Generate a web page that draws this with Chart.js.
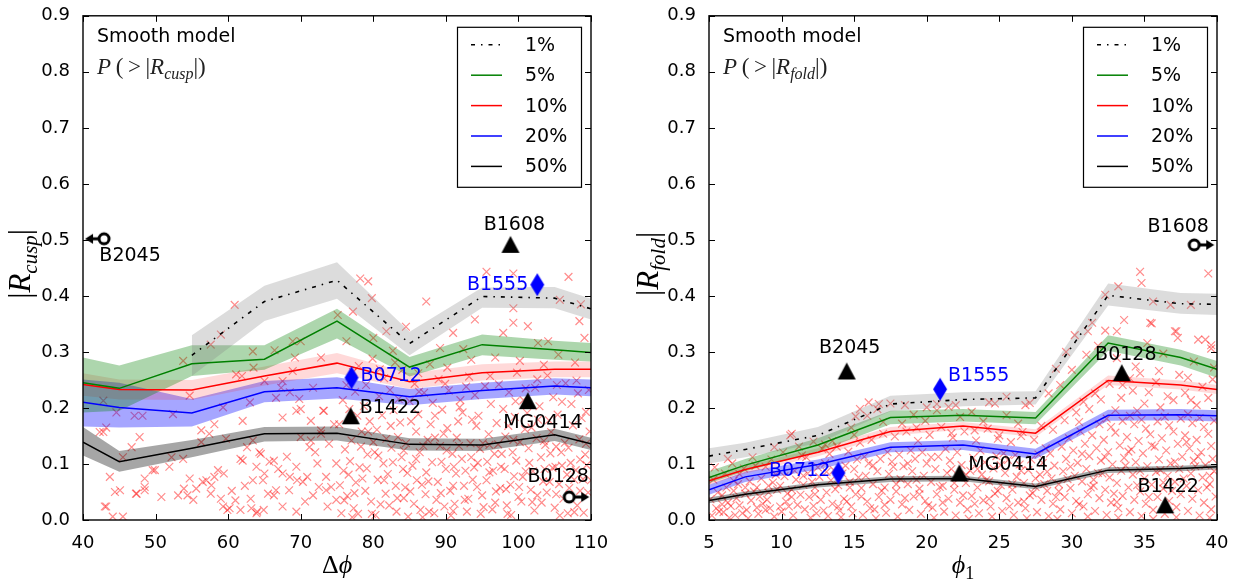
<!DOCTYPE html>
<html><head><meta charset="utf-8">
<script src="https://cdn.jsdelivr.net/npm/chart.js@4/dist/chart.umd.min.js"></script>
<style>
html,body{margin:0;padding:0;background:#fff;width:1238px;height:583px;overflow:hidden}
.wrap{position:absolute;top:0;height:583px;width:619px}
#w1{left:0} #w2{left:619px}
canvas{display:block}
</style></head><body>
<div class="wrap" id="w1"><canvas id="c1" width="619" height="583"></canvas></div>
<div class="wrap" id="w2"><canvas id="c2" width="619" height="583"></canvas></div>
<script>
// ---------------- DATA: left panel (cusp) ----------------
const cuspX = [40,45,55,65,75,85,95,105,110];
const cusp1   = [null,null,0.294,0.390,0.428,0.315,0.399,0.396,0.377];
const cusp1Lo = [null,null,0.257,0.355,0.395,0.294,0.379,0.378,0.358];
const cusp1Hi = [null,null,0.330,0.418,0.460,0.336,0.415,0.416,0.395];
const cusp5   = [0.245,0.235,0.279,0.287,0.355,0.273,0.313,0.304,0.299];
const cusp5Lo = [0.192,0.195,0.257,0.268,0.324,0.256,0.294,0.286,0.283];
const cusp5Hi = [0.290,0.276,0.312,0.312,0.377,0.291,0.331,0.320,0.316];
const cusp10   = [0.242,0.233,0.232,0.257,0.280,0.247,0.263,0.269,0.269];
const cusp10Lo = [0.222,0.215,0.214,0.240,0.262,0.234,0.249,0.255,0.255];
const cusp10Hi = [0.262,0.251,0.250,0.274,0.298,0.262,0.278,0.283,0.283];
const cusp20   = [0.210,0.201,0.191,0.229,0.236,0.220,0.231,0.239,0.236];
const cusp20Lo = [0.167,0.165,0.167,0.210,0.217,0.205,0.216,0.224,0.221];
const cusp20Hi = [0.251,0.245,0.216,0.248,0.255,0.234,0.245,0.253,0.251];
const cusp50   = [0.139,0.104,0.128,0.154,0.155,0.135,0.134,0.152,0.136];
const cusp50Lo = [0.115,0.086,0.112,0.140,0.142,0.124,0.123,0.141,0.125];
const cusp50Hi = [0.166,0.123,0.143,0.166,0.167,0.146,0.145,0.163,0.147];
const cuspObjName = ['B2045','B1608','B1555','B0712','B1422','MG0414','B0128'];
const cuspObjX    = [42.9,98.9,102.6,77.0,76.9,101.3,107.0];
const cuspObjY    = [0.502,0.492,0.420,0.254,0.186,0.213,0.041];
const cuspObjKind = ['limL','tri','dia','dia','tri','tri','limR'];
const cuspScatter = [
[60.9,.384],[63.4,.301],[53.8,.284],[66.4,.303],[68.9,.319],[69.2,.290],[72.8,.290],[75.1,.366],[61.1,.260],[54.7,.222],
[52.4,.189],[47.1,.186],[48.2,.186],[42.8,.213],[43.2,.165],[42.8,.157],[44.6,.192],[46.7,.130],[45.5,.112],[43.7,.077],
[45.1,.053],[43.2,.024],[44.1,.006],[45.5,.006],[48.5,.074],[48.5,.053],[47.3,.047],[50.8,.041],[49.6,.089],[51.9,.095],
[52.2,.112],[53.1,.044],[53.8,.109],[54.7,.074],[55.2,.036],[55.6,.056],[57.0,.071],[57.7,.062],[58.6,.089],[59.3,.024],
[60.2,.021],[59.7,.145],[57.4,.154],[56.3,.139],[56.3,.160],[58.1,.171],[62.0,.177],[63.4,.142],[62.0,.106],[64.3,.121],
[63.9,.095],[65.0,.083],[65.7,.104],[65.5,.047],[66.6,.053],[63.4,.071],[63.2,.021],[63.9,.012],[67.5,.183],[69.4,.195],
[69.8,.216],[68.5,.228],[71.7,.236],[73.1,.195],[72.8,.154],[71.2,.130],[69.4,.095],[68.5,.077],[70.3,.068],[71.7,.044],
[73.5,.077],[74.2,.059],[73.7,.024],[74.9,.036],[74.9,.101],[67.5,.024],[69.4,.015],[59.3,.201],[63.0,.210],[66.6,.218],
[65.0,.248],[67.5,.248],[68.9,.266],[42.3,.157],[47.8,.148],[43.0,.024],[44.4,.050],[47.4,.047],[48.5,.059],[49.9,.089],
[53.9,.056],[54.4,.044],[56.5,.068],[58.1,.077],[59.4,.083],[59.9,.018],[61.7,.018],[64.0,.015],[57.6,.047],[59.0,.038],
[61.0,.035],[63.1,.038],[64.9,.018],[66.3,.044],[68.4,.053],[69.5,.071],[70.9,.077],[72.3,.101],[72.5,.059],[73.5,.053],
[61.7,.109],[62.6,.130],[64.5,.118],[66.3,.106],[67.5,.083],[70.0,.148],[71.4,.142],[72.8,.160],[70.0,.198],[71.4,.177],
[73.2,.195],[61.9,.257],[63.5,.272],[67.3,.236],[70.0,.319],[59.0,.331],[57.6,.313],
[75.6,.012],[75.9,.088],[75.3,.171],[75.8,.214],[76.4,.043],[76.1,.126],[76.7,.198],[77.3,.021],[77.6,.067],[77.0,.142],
[77.5,.229],[77.2,.264],[78.1,.094],[78.4,.158],[77.9,.011],[78.9,.052],[79.2,.117],[78.7,.203],[79.0,.241],[79.7,.033],
[80.0,.139],[79.5,.176],[79.9,.288],[80.6,.072],[80.3,.009],[80.8,.221],[80.5,.161],[81.4,.101],[81.7,.047],[81.2,.187],
[81.5,.253],[82.2,.026],[82.5,.129],[82.0,.082],[82.3,.232],[83.1,.061],[83.4,.148],[82.8,.196],[83.2,.015],[83.9,.112],
[84.2,.039],[83.7,.174],[84.0,.268],[84.7,.084],[85.0,.212],[84.5,.137],[84.8,.006],[85.6,.029],[85.9,.158],[85.4,.097],
[85.7,.243],[86.4,.121],[86.7,.063],[86.2,.189],[86.5,.018],[87.2,.046],[87.5,.143],[87.0,.227],[87.3,.085],[88.1,.103],
[88.4,.012],[87.9,.171],[88.2,.209],[88.9,.068],[89.2,.132],[88.7,.036],[89.0,.251],[89.7,.154],[90.0,.091],[89.5,.197],
[89.8,.024],[90.6,.052],[90.9,.118],[90.4,.231],[90.7,.008],[91.4,.083],[91.7,.176],[91.2,.029],[91.5,.147],[92.2,.109],
[92.5,.061],[92.0,.214],[92.3,.192],[93.1,.038],[93.4,.137],[92.9,.015],[93.2,.256],[93.9,.094],[94.2,.168],[93.7,.072],
[94.0,.223],[94.7,.127],[95.0,.044],[94.5,.186],[94.8,.011],[95.6,.071],[95.9,.153],[95.4,.239],[95.7,.104],[96.4,.019],
[96.7,.118],[96.2,.207],[96.5,.088],[97.2,.135],[97.5,.057],[97.0,.173],[97.3,.242],[98.1,.091],[98.4,.026],[97.9,.198],
[98.2,.149],[98.9,.063],[99.2,.121],[98.7,.228],[99.0,.009],[99.7,.106],[100.0,.041],[99.5,.184],[99.8,.263],[100.6,.077],
[100.9,.162],[100.4,.033],[100.7,.214],[101.4,.128],[101.7,.054],[101.2,.191],[101.5,.102],[102.2,.017],[102.5,.146],[102.0,.087],
[102.3,.236],[103.1,.112],[103.4,.069],[102.9,.203],[103.2,.031],[103.9,.049],[104.2,.178],[103.7,.134],[104.0,.258],[104.7,.093],
[105.0,.022],[104.5,.157],[104.8,.219],[105.6,.064],[105.9,.121],[105.4,.188],[105.7,.008],[106.4,.138],[106.7,.081],[106.2,.038],
[106.5,.244],[107.2,.102],[107.5,.169],[107.0,.057],[107.3,.207],[108.1,.026],[108.4,.144],[107.9,.089],[108.2,.226],[108.9,.073],
[109.2,.117],[108.7,.182],[109.0,.013],[109.6,.049],[109.8,.158],[109.4,.098],[109.7,.232],
[76.0,.035],[76.8,.105],[77.8,.186],[78.5,.074],[79.3,.158],[80.2,.121],[81.0,.028],[81.8,.145],[82.7,.103],[83.5,.216],
[84.4,.058],[85.2,.176],[86.0,.071],[86.9,.132],[87.7,.015],[88.5,.186],[89.4,.104],[90.2,.164],[91.0,.061],[91.9,.201],
[92.7,.088],[93.6,.179],[94.4,.102],[95.2,.023],[96.0,.134],[96.9,.051],[97.7,.118],[98.6,.168],[99.4,.078],[100.2,.139],
[101.0,.235],[101.9,.032],[102.7,.179],[103.6,.091],[104.4,.119],[105.2,.046],[106.0,.211],[106.9,.129],[107.7,.014],[108.5,.108],
[109.3,.193],[76.3,.241],[78.0,.275],[80.9,.269],[83.0,.281],[86.3,.229],[89.9,.243],[92.8,.238],[96.1,.257],[99.6,.212],
[102.6,.251],[105.3,.241],[108.0,.249],[77.1,.005],[84.1,.091],[91.1,.095],[98.3,.055],[105.1,.095],[110.0,.071],
[75.4,.062],[76.6,.081],[77.4,.048],[78.3,.131],[79.1,.092],[79.8,.011],[80.7,.115],[81.5,.071],[82.4,.168],[83.3,.039],
[84.2,.124],[85.1,.051],[85.9,.109],[86.8,.005],[87.6,.069],[88.5,.147],[89.3,.048],[90.1,.124],[91.0,.016],[91.8,.132],
[92.6,.036],[93.5,.112],[94.3,.059],[95.1,.137],[96.0,.085],[96.8,.031],[97.6,.095],[98.5,.011],[99.3,.143],[100.1,.059],
[101.0,.087],[101.8,.165],[102.6,.044],[103.5,.141],[104.3,.068],[105.2,.131],[106.0,.097],[106.8,.012],[107.7,.072],[108.5,.052],
[109.3,.136],[60.5,.052],[62.3,.061],[64.8,.071],[66.9,.091],[68.1,.113],[70.6,.033],[72.0,.121],[73.9,.136],[74.6,.171],
[79.3,.426],[78.2,.431],[79.8,.396],[77.2,.372],[87.3,.390],[95.6,.443],[99.3,.440],[106.9,.434],[105.7,.393],[99.3,.378],
[108.4,.355],[108.6,.385],[94.0,.358],[99.3,.352],[101.3,.346],[97.9,.334],[102.7,.316],[104.1,.319],[105.5,.295],[109.1,.325],
[91.0,.334],[92.4,.305],[81.8,.337],[80.0,.325],[76.3,.319],[82.7,.302],[89.2,.307],[87.8,.278],[84.5,.345],[96.8,.290],
[100.2,.284],[90.2,.272],[103.5,.277],[107.8,.281],[86.2,.262],[93.5,.286]
];

// ---------------- DATA: right panel (fold) ----------------
const foldX = [5,7.5,12.5,17.5,22.5,27.5,32.5,37.5,40];
const fold1   = [0.114,0.126,0.151,0.207,0.215,0.218,0.401,0.386,0.385];
const fold1Lo = [0.101,0.112,0.137,0.194,0.203,0.206,0.383,0.368,0.366];
const fold1Hi = [0.128,0.138,0.166,0.222,0.228,0.230,0.422,0.405,0.404];
const fold5   = [0.076,0.098,0.134,0.183,0.187,0.182,0.316,0.290,0.269];
const fold5Lo = [0.066,0.087,0.122,0.171,0.176,0.171,0.302,0.276,0.254];
const fold5Hi = [0.087,0.109,0.146,0.195,0.198,0.193,0.330,0.304,0.284];
const fold10   = [0.070,0.090,0.121,0.158,0.168,0.155,0.249,0.241,0.233];
const fold10Lo = [0.063,0.083,0.114,0.151,0.161,0.148,0.241,0.233,0.225];
const fold10Hi = [0.077,0.097,0.128,0.166,0.175,0.162,0.258,0.249,0.241];
const fold20   = [0.054,0.077,0.099,0.130,0.134,0.118,0.187,0.188,0.186];
const fold20Lo = [0.045,0.068,0.090,0.121,0.125,0.109,0.177,0.178,0.176];
const fold20Hi = [0.063,0.086,0.108,0.139,0.143,0.127,0.197,0.198,0.196];
const fold50   = [0.035,0.046,0.063,0.073,0.074,0.060,0.089,0.092,0.095];
const fold50Lo = [0.030,0.041,0.058,0.068,0.069,0.055,0.084,0.087,0.090];
const fold50Hi = [0.040,0.051,0.068,0.078,0.079,0.065,0.094,0.097,0.100];
const foldObjName = ['B2045','B1555','B0712','MG0414','B0128','B1422','B1608'];
const foldObjX    = [14.49,20.92,13.91,22.25,33.44,36.43,38.43];
const foldObjY    = [0.266,0.2335,0.084,0.084,0.263,0.027,0.491];
const foldObjKind = ['tri','dia','dia','tri','tri','tri','limR'];
const foldScatter = [
[5.2,.008],[5.5,.021],[5.1,.037],[5.6,.049],[5.3,.072],[5.4,.094],[6.0,.014],[6.3,.031],[5.9,.044],[6.2,.058],[6.4,.004],[6.1,.083],
[6.8,.009],[7.1,.026],[6.7,.052],[7.0,.064],[6.9,.039],[6.6,.101],[7.6,.018],[7.9,.035],[7.5,.047],[7.8,.069],[7.7,.003],[7.4,.092],[8.0,.112],
[8.4,.011],[8.7,.029],[8.3,.058],[8.6,.074],[8.5,.042],[8.2,.097],[9.2,.021],[9.5,.006],[9.1,.049],[9.4,.067],[9.6,.081],[9.0,.036],[9.3,.108],
[10.0,.015],[10.3,.033],[9.9,.061],[10.2,.078],[10.4,.047],[10.1,.121],[10.8,.008],[11.1,.027],[10.7,.054],[11.0,.072],[10.9,.088],[11.2,.131],[10.6,.151],
[11.6,.019],[11.9,.041],[11.5,.063],[11.8,.083],[12.0,.004],[11.7,.112],[12.4,.012],[12.7,.036],[12.3,.058],[12.6,.077],[12.5,.094],[12.2,.025],[12.8,.127],
[13.2,.007],[13.5,.029],[13.1,.049],[13.4,.071],[13.6,.089],[13.0,.101],[13.3,.118],[13.5,.141],[14.0,.017],[14.3,.038],[13.9,.062],[14.2,.083],[14.4,.097],[14.1,.005],[13.8,.131],
[14.8,.024],[15.1,.046],[14.7,.068],[15.0,.091],[15.2,.108],[14.9,.012],[14.6,.122],[15.0,.152],[15.6,.009],[15.9,.033],[15.5,.057],[15.8,.079],[16.0,.101],[15.7,.113],[15.4,.138],[15.9,.186],
[16.4,.019],[16.7,.041],[16.3,.064],[16.6,.087],[16.8,.109],[16.5,.003],[16.2,.143],[16.6,.198],[17.2,.013],[17.5,.036],[17.1,.058],[17.4,.082],[17.6,.104],[17.3,.121],[17.0,.154],[17.5,.208],
[18.0,.006],[18.3,.028],[17.9,.051],[18.2,.073],[18.4,.096],[18.1,.117],[17.8,.149],[18.3,.172],[18.8,.018],[19.1,.042],[18.7,.064],[19.0,.087],[19.2,.109],[18.9,.124],[18.6,.158],[19.1,.188],
[19.6,.011],[19.9,.034],[19.5,.056],[19.8,.079],[20.0,.101],[19.7,.121],[19.4,.141],[19.9,.177],[20.4,.022],[20.7,.046],[20.3,.068],[20.6,.091],[20.8,.113],[20.5,.004],[20.2,.152],[20.7,.196],
[21.2,.015],[21.5,.038],[21.1,.061],[21.4,.084],[21.6,.106],[21.3,.127],[21.0,.166],[21.5,.202],[22.0,.008],[22.3,.031],[21.9,.054],[22.2,.076],[22.4,.098],[22.1,.121],[21.8,.147],[22.3,.184],
[22.8,.019],[23.1,.043],[22.7,.066],[23.0,.088],[23.2,.111],[22.9,.002],[22.6,.158],[23.1,.193],[23.6,.012],[23.9,.035],[23.5,.058],[23.8,.081],[24.0,.103],[23.7,.124],[23.4,.142],[23.9,.176],
[24.4,.024],[24.7,.047],[24.3,.069],[24.6,.092],[24.8,.114],[24.5,.006],[24.2,.163],[24.7,.208],[25.2,.016],[25.5,.039],[25.1,.062],[25.4,.084],[25.6,.107],[25.3,.119],[25.0,.151],[25.5,.187],
[26.0,.009],[26.3,.031],[25.9,.054],[26.2,.077],[26.4,.099],[26.1,.116],[25.8,.139],[26.3,.172],[26.8,.021],[27.1,.044],[26.7,.066],[27.0,.089],[27.2,.108],[26.9,.003],[26.6,.157],[27.1,.209],
[27.6,.014],[27.9,.036],[27.5,.059],[27.8,.081],[28.0,.102],[27.7,.117],[27.4,.143],[27.9,.168],[28.4,.007],[28.7,.029],[28.3,.052],[28.6,.074],[28.8,.097],[28.5,.119],[28.2,.128],[28.7,.161],[28.4,.226],
[29.2,.019],[29.5,.041],[29.1,.064],[29.4,.087],[29.6,.109],[29.3,.131],[29.0,.002],[29.5,.178],[29.2,.241],[30.0,.012],[30.3,.034],[29.9,.057],[30.2,.079],[30.4,.102],[30.1,.124],[29.8,.146],[30.3,.192],[30.0,.268],
[30.8,.024],[31.1,.046],[30.7,.069],[31.0,.091],[31.2,.114],[30.9,.136],[30.6,.158],[31.1,.006],[30.8,.211],[31.0,.295],[31.6,.016],[31.9,.039],[31.5,.061],[31.8,.084],[32.0,.106],[31.7,.128],[31.4,.151],[31.9,.171],[31.6,.226],[31.8,.311],
[32.4,.009],[32.7,.031],[32.3,.054],[32.6,.076],[32.8,.099],[32.5,.121],[32.2,.143],[32.7,.166],[32.4,.181],[32.6,.243],[32.3,.338],
[33.2,.021],[33.5,.043],[33.1,.066],[33.4,.088],[33.6,.111],[33.3,.133],[33.0,.156],[33.5,.177],[33.2,.004],[33.4,.218],[33.1,.289],[33.6,.357],
[34.0,.014],[34.3,.036],[33.9,.058],[34.2,.081],[34.4,.103],[34.1,.126],[33.8,.148],[34.3,.171],[34.0,.186],[34.2,.231],[34.4,.274],
[34.8,.007],[35.1,.029],[34.7,.051],[35.0,.074],[35.2,.096],[34.9,.119],[34.6,.141],[35.1,.163],[34.8,.179],[35.0,.208],[34.7,.262],[35.2,.316],
[35.6,.018],[35.9,.041],[35.5,.063],[35.8,.086],[36.0,.108],[35.7,.131],[35.4,.153],[35.9,.176],[35.6,.002],[35.8,.246],[35.5,.351],
[36.4,.011],[36.7,.034],[36.3,.056],[36.6,.079],[36.8,.101],[36.5,.124],[36.2,.146],[36.7,.169],[36.4,.184],[36.6,.221],[36.3,.297],
[37.2,.023],[37.5,.046],[37.1,.068],[37.4,.091],[37.6,.113],[37.3,.136],[37.0,.158],[37.5,.181],[37.2,.005],[37.4,.259],[37.1,.337],
[38.0,.016],[38.3,.038],[37.9,.061],[38.2,.083],[38.4,.106],[38.1,.128],[37.8,.151],[38.3,.173],[38.0,.189],[38.2,.214],[38.4,.283],
[38.8,.008],[39.1,.031],[38.7,.053],[39.0,.076],[39.2,.098],[38.9,.121],[38.6,.143],[39.1,.166],[38.8,.182],[39.0,.238],[38.7,.322],
[39.6,.019],[39.9,.042],[39.5,.064],[39.8,.087],[39.7,.109],[39.6,.132],[39.4,.154],[39.8,.177],[39.5,.004],[39.7,.251],[39.6,.306],
[5.7,.015],[6.5,.025],[7.3,.012],[8.1,.051],[8.9,.018],[9.7,.054],[10.5,.024],[11.3,.045],[12.1,.068],[12.9,.017],
[13.7,.055],[14.5,.033],[15.3,.076],[16.1,.021],[16.9,.052],[17.7,.095],[18.5,.039],[19.3,.072],[20.1,.026],[20.9,.059],
[21.7,.091],[22.5,.044],[23.3,.029],[24.1,.071],[24.9,.052],[25.7,.024],[26.5,.088],[27.3,.048],[28.1,.064],[28.9,.041],
[29.7,.073],[30.5,.028],[31.3,.058],[32.1,.083],[32.9,.047],[33.7,.097],[34.5,.062],[35.3,.041],[36.1,.089],[36.9,.052],
[37.7,.074],[38.5,.096],[39.3,.058],
[5.9,.028],[6.7,.070],[7.5,.058],[8.3,.022],[9.1,.061],[9.9,.024],[10.7,.041],[11.5,.079],[12.3,.046],[13.1,.086],
[13.9,.024],[14.7,.058],[15.5,.042],[16.3,.097],[17.1,.027],[17.9,.064],[18.7,.101],[19.5,.046],[20.3,.112],[21.1,.031],
[21.9,.066],[22.7,.081],[23.5,.091],[24.3,.038],[25.1,.098],[25.9,.064],[26.7,.033],[27.5,.074],[28.3,.086],[29.1,.051],
[29.9,.095],[30.7,.118],[31.5,.072],[32.3,.112],[33.1,.032],[33.9,.122],[34.7,.088],[35.5,.133],[36.3,.067],[37.1,.104],
[37.9,.139],[38.7,.113],[39.5,.079],
[30.5,.175],[31.2,.198],[32.0,.215],[33.0,.196],[34.5,.195],[35.3,.228],[36.1,.201],[37.0,.214],[37.8,.227],[38.6,.205],
[39.4,.218],[34.0,.253],[36.0,.266],[38.0,.254],[39.8,.272],[33.5,.241],[17.0,.175],[19.3,.165],[21.7,.155],[23.3,.160],
[24.9,.145],[26.5,.150],[13.0,.135],[11.4,.115],[8.9,.095],[7.1,.082],
[16.0,.210],[15.4,.198],[16.7,.207],[15.1,.185],[10.7,.154],[6.3,.109],[20.7,.207],[20.0,.201],[34.7,.443],[34.8,.423],
[39.4,.440],[33.2,.417],[32.3,.402],[35.4,.352],[37.2,.337],[37.3,.325],[39.2,.322],[39.6,.312],[33.1,.337],[31.4,.352],
[31.1,.337],[38.2,.384],[36.8,.384],[35.6,.390],[29.6,.300],[30.2,.330],[28.9,.270],[12.2,.140],[9.5,.130],[14.8,.165],
[18.5,.205],[24.3,.210],[26.8,.205],[25.5,.220],[22.0,.205]
];

const legendLabels = ['1%','5%','10%','20%','50%'];

// ---------------- STYLE ----------------
const FONT = '"DejaVu Sans", sans-serif';
const SERIF = '"Liberation Serif","DejaVu Serif", serif';
const lineColors = ['#000000','#008000','#ff0000','#0000ff','#000000'];
const bandColors = ['rgba(128,128,128,0.28)','rgba(0,128,0,0.32)','rgba(255,0,0,0.15)','rgba(0,0,255,0.35)','rgba(0,0,0,0.35)'];
const dash1 = [4,6,1.5,6];

function mk(w,h,fn){const c=document.createElement('canvas');c.width=w;c.height=h;fn(c.getContext('2d'));return c;}
const triImg = mk(20,19,g=>{g.fillStyle='#000';g.beginPath();g.moveTo(10,1);g.lineTo(19,18);g.lineTo(1,18);g.closePath();g.fill();});
const diaImg = mk(16,25,g=>{g.fillStyle='#0000ff';g.beginPath();g.moveTo(8,1);g.lineTo(15,12.5);g.lineTo(8,24);g.lineTo(1,12.5);g.closePath();g.fill();});
function limImg(dir,L){
  const W=2*(L+2);
  return mk(W,16,g=>{
    const cx=W/2, cy=8, r=5;
    g.strokeStyle='#000'; g.fillStyle='#000'; g.lineWidth=3;
    const tip=cx+dir*L;
    g.beginPath(); g.moveTo(cx+dir*r,cy); g.lineTo(tip-dir*6,cy); g.stroke();
    g.beginPath(); g.moveTo(tip,cy); g.lineTo(tip-dir*8,cy-5); g.lineTo(tip-dir*8,cy+5); g.closePath(); g.fill();
    g.fillStyle='#fff'; g.beginPath(); g.arc(cx,cy,r,0,Math.PI*2); g.fill(); g.stroke();
  });
}
const markerImg = {tri:triImg, dia:diaImg, limL:limImg(-1,19), limR:limImg(1,20)};

const cuspLabelStyle = [
 {dx:26,dy:17,align:'center'},{dx:4,dy:-19,align:'center'},{dx:-9,dy:0,align:'right'},
 {dx:9,dy:-2,align:'left'},{dx:9,dy:-8,align:'left'},{dx:15,dy:22,align:'center'},{dx:-11,dy:-20,align:'center'}];
const foldLabelStyle = [
 {dx:3,dy:-23,align:'center'},{dx:8,dy:-13,align:'left'},{dx:-8,dy:-2,align:'right'},
 {dx:9,dy:-8,align:'left'},{dx:4,dy:-18,align:'center'},{dx:3,dy:-18,align:'center'},{dx:-16,dy:-18,align:'center'}];

function pts(xs,ys){const o=[];xs.forEach((x,i)=>{if(ys[i]!==null)o.push({x,y:ys[i]});});return o;}

function buildDatasets(xs, series, scatter, names, ox, oy, kinds){
  const ds=[];
  ds.push({type:'scatter',data:scatter.map(p=>({x:p[0],y:p[1]})),pointStyle:'crossRot',pointRadius:5.5,
    borderColor:'rgba(255,0,0,0.45)',backgroundColor:'rgba(255,0,0,0.45)',borderWidth:1.2,order:100});
  series.forEach((s,i)=>{
    ds.push({type:'line',data:pts(xs,s.hi),borderColor:'rgba(0,0,0,0)',borderWidth:0,pointRadius:0,fill:false,order:50,tension:0});
    ds.push({type:'line',data:pts(xs,s.lo),borderColor:'rgba(0,0,0,0)',borderWidth:0,pointRadius:0,fill:'-1',backgroundColor:bandColors[i],order:50,tension:0});
  });
  series.forEach((s,i)=>{
    ds.push({type:'line',data:pts(xs,s.mid),borderColor:lineColors[i],borderWidth:i===0?1.6:1.5,borderDash:i===0?dash1:[],
      pointRadius:0,fill:false,order:10,tension:0});
  });
  names.forEach((n,i)=>{
    ds.push({type:'scatter',data:[{x:ox[i],y:oy[i]}],pointStyle:markerImg[kinds[i]],pointRadius:5,clip:false,order:1});
  });
  return ds;
}

function drawMath(ctx, parts, x, y, size, color, center){
  const f={n:`${size}px ${SERIF}`, i:`italic ${size}px ${SERIF}`, s:`italic ${Math.round(size*0.68)}px ${SERIF}`, sn:`${Math.round(size*0.7)}px ${SERIF}`};
  let w=0; for(const [t,s] of parts){ctx.font=f[s]; w+=ctx.measureText(t).width;}
  let cx=center?x-w/2:x;
  ctx.textBaseline='alphabetic'; ctx.textAlign='left'; ctx.fillStyle=color;
  for(const [t,s] of parts){ctx.font=f[s]; ctx.fillText(t,cx,(s==='s'||s==='sn')?y+size*0.24:y); cx+=ctx.measureText(t).width;}
}

function makeDecor(cfg){
  return {id:'decor', afterDatasetsDraw(chart){
    const ctx=chart.ctx, a=chart.chartArea, xs=chart.scales.x, ys=chart.scales.y;
    ctx.save();
    ctx.strokeStyle='#000'; ctx.lineWidth=1.4;
    ctx.strokeRect(a.left,a.top,a.right-a.left,a.bottom-a.top);
    ctx.lineWidth=1;
    ctx.beginPath();
    xs.ticks.forEach(t=>{const p=Math.round(xs.getPixelForValue(t.value))+0.5;
      ctx.moveTo(p,a.bottom);ctx.lineTo(p,a.bottom-6);ctx.moveTo(p,a.top);ctx.lineTo(p,a.top+6);});
    ys.ticks.forEach(t=>{const p=Math.round(ys.getPixelForValue(t.value))+0.5;
      ctx.moveTo(a.left,p);ctx.lineTo(a.left+6,p);ctx.moveTo(a.right,p);ctx.lineTo(a.right-6,p);});
    ctx.stroke();
    // legend
    const x1=a.right-10, x0=x1-124, y0=a.top+11;
    ctx.fillStyle='#fff'; ctx.fillRect(x0,y0,124,160);
    ctx.strokeStyle='#000'; ctx.lineWidth=1.2; ctx.strokeRect(x0+0.5,y0+0.5,124,160);
    legendLabels.forEach((lab,i)=>{
      const yy=y0+18+i*30.4;
      ctx.beginPath(); ctx.strokeStyle=lineColors[i]; ctx.lineWidth=1.5; ctx.setLineDash(i===0?dash1:[]);
      ctx.moveTo(x0+14,yy); ctx.lineTo(x0+45,yy); ctx.stroke(); ctx.setLineDash([]);
      ctx.fillStyle='#000'; ctx.font=`19px ${FONT}`; ctx.textAlign='left'; ctx.textBaseline='middle';
      ctx.fillText(lab,x0+68,yy+1);
    });
    ctx.fillStyle='#000'; ctx.font=`19px ${FONT}`; ctx.textAlign='left'; ctx.textBaseline='middle';
    ctx.fillText('Smooth model',a.left+14,a.top+21);
    drawMath(ctx,[['P','i'],['\u2009(\u2009','n'],['>','n'],['\u2009|','n'],['R','i'],[cfg.sub,'s'],['|)','n']],a.left+14,a.top+58,23,'#222',false);
    cfg.names.forEach((n,i)=>{
      const st=cfg.labelStyle[i];
      const px=xs.getPixelForValue(cfg.ox[i])+st.dx, py=ys.getPixelForValue(cfg.oy[i])+st.dy;
      ctx.fillStyle=cfg.kinds[i]==='dia'?'#0000ff':'#000';
      ctx.font=`19px ${FONT}`; ctx.textAlign=st.align; ctx.textBaseline='middle';
      ctx.fillText(n,px,py);
    });
    drawMath(ctx,cfg.xtitle,(a.left+a.right)/2,a.bottom+53,26,'#000',true);
    ctx.save(); ctx.translate(cfg.ytitleX,(a.top+a.bottom)/2-4); ctx.rotate(-Math.PI/2);
    drawMath(ctx,[['|','n'],['R','i'],[cfg.sub,'s'],['|','n']],0,0,31,'#000',true);
    ctx.restore();
    ctx.restore();
  }};
}

function makeChart(id, xmin, xmax, step, padRight, padTop, yW, ds, cfg){
  return new Chart(document.getElementById(id),{
    type:'scatter',
    data:{datasets:ds},
    options:{
      responsive:false, animation:false,
      layout:{padding:{left:0,right:padRight,top:padTop,bottom:0}},
      plugins:{legend:{display:false},tooltip:{enabled:false}},
      scales:{
        x:{type:'linear',min:xmin,max:xmax,grid:{display:false},border:{display:false},
           ticks:{stepSize:step,color:'#000',font:{family:FONT,size:18},padding:5,maxRotation:0},
           afterFit:s=>{s.height=63;}},
        y:{type:'linear',min:0,max:0.9,grid:{display:false},border:{display:false},
           ticks:{stepSize:0.1,color:'#000',font:{family:FONT,size:18},padding:5,callback:v=>Number(v).toFixed(1)},
           afterFit:s=>{s.width=yW;}}
      }
    },
    plugins:[makeDecor(cfg)]
  });
}

const cuspSeries=[{mid:cusp1,lo:cusp1Lo,hi:cusp1Hi},{mid:cusp5,lo:cusp5Lo,hi:cusp5Hi},{mid:cusp10,lo:cusp10Lo,hi:cusp10Hi},{mid:cusp20,lo:cusp20Lo,hi:cusp20Hi},{mid:cusp50,lo:cusp50Lo,hi:cusp50Hi}];
const foldSeries=[{mid:fold1,lo:fold1Lo,hi:fold1Hi},{mid:fold5,lo:fold5Lo,hi:fold5Hi},{mid:fold10,lo:fold10Lo,hi:fold10Hi},{mid:fold20,lo:fold20Lo,hi:fold20Hi},{mid:fold50,lo:fold50Lo,hi:fold50Hi}];

makeChart('c1',40,110,10,28,12,83,
  buildDatasets(cuspX,cuspSeries,cuspScatter,cuspObjName,cuspObjX,cuspObjY,cuspObjKind),
  {sub:'cusp',names:cuspObjName,ox:cuspObjX,oy:cuspObjY,kinds:cuspObjKind,labelStyle:cuspLabelStyle,
   xtitle:[['Δ','n'],['ϕ','i']],ytitleX:30});
makeChart('c2',5,40,5,21,13,90,
  buildDatasets(foldX,foldSeries,foldScatter,foldObjName,foldObjX,foldObjY,foldObjKind),
  {sub:'fold',names:foldObjName,ox:foldObjX,oy:foldObjY,kinds:foldObjKind,labelStyle:foldLabelStyle,
   xtitle:[['ϕ','i'],['1','sn']],ytitleX:39});
</script>
</body></html>
